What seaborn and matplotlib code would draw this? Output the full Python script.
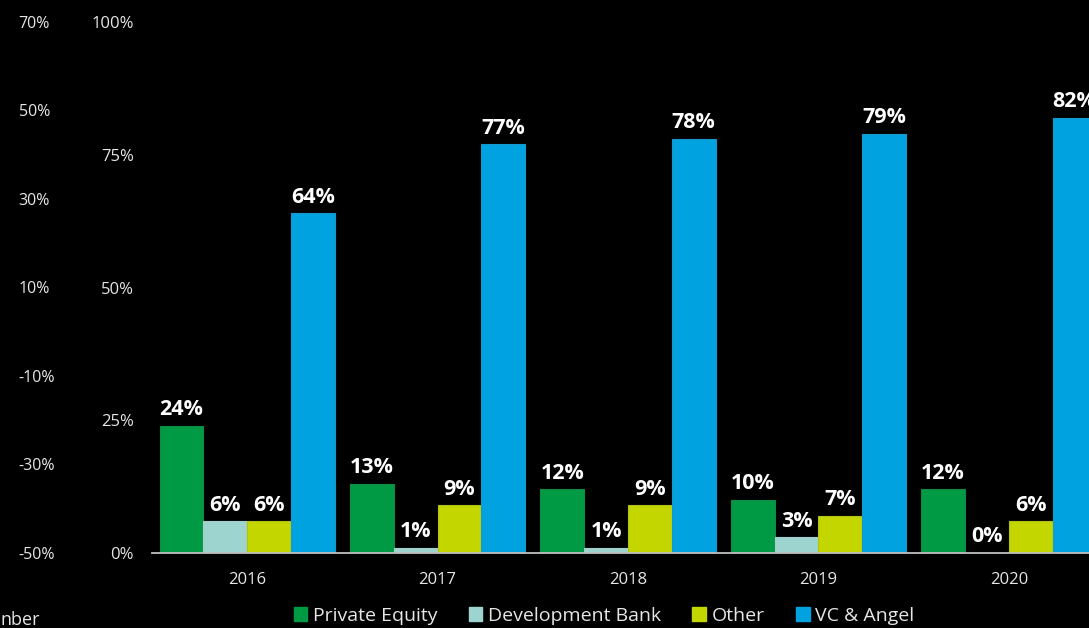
import matplotlib
matplotlib.use("Agg")
import matplotlib.pyplot as plt
from matplotlib.patches import Patch
import seaborn as sns
import pandas as pd
import numpy as np

# Data (share of deals by investor type)
years = ["2016", "2017", "2018", "2019", "2020"]
series = ["Private Equity", "Development Bank", "Other", "VC & Angel"]
private_equity = [24, 13, 12, 10, 12]
development_bank = [6, 1, 1, 3, 0]
other = [6, 9, 9, 7, 6]
vc_angel = [64, 77, 78, 79, 82]
colors = ["#009A44", "#9DD4CF", "#C4D600", "#00A3E0"]

left_ticks = [-50, -30, -10, 10, 30, 50, 70]
main_ticks = [0, 25, 50, 75, 100]

rows = []
for name, vals in zip(series, [private_equity, development_bank, other, vc_angel]):
    for y, v in zip(years, vals):
        rows.append({"year": y, "series": name, "share": v})
df = pd.DataFrame(rows)

sns.set_style("dark", {"axes.facecolor": "black", "figure.facecolor": "black"})
plt.rcParams["font.family"] = ["Open Sans", "DejaVu Sans"]
TXT = "#e6e6e6"

W, H = 1089, 628
fig = plt.figure(figsize=(W / 100, H / 100), dpi=100)
fig.patch.set_facecolor("black")
ax = fig.add_axes([152 / W, 75 / H, (1104 - 152) / W, 531 / H])
ax.set_facecolor("black")

sns.barplot(data=df, x="year", y="share", hue="series", hue_order=series,
            palette=colors, saturation=1, width=0.92, gap=0, ax=ax,
            legend=False, linewidth=0.8,
            edgecolor=None)
for cont, c in zip(ax.containers, colors):
    for bar in cont:
        bar.set_edgecolor(sns.desaturate(c, 0.8))
    ax.bar_label(cont, labels=[f"{v:.0f}%" for v in cont.datavalues],
                 padding=4, color="white", fontsize=15.5, fontweight="bold")

ax.set_ylim(0, 100)
ax.set_xlim(-0.5, 4.5)
ax.set_yticks(main_ticks)
ax.set_yticklabels([f"{t}%" for t in main_ticks])
ax.set_xlabel("")
ax.set_ylabel("")
ax.grid(False)
for s in ["top", "right", "left"]:
    ax.spines[s].set_visible(False)
ax.spines["bottom"].set_color("#bfbfbf")
ax.spines["bottom"].set_linewidth(1.3)
ax.tick_params(axis="y", length=0, pad=13, colors=TXT, labelsize=12)
ax.tick_params(axis="x", length=0, pad=14, colors=TXT, labelsize=12)

# second (left-most) percentage scale
ax2 = ax.twinx()
ax2.set_ylim(-50, 70)
ax2.set_yticks(left_ticks)
ax2.set_yticklabels([f"{t}%" for t in left_ticks])
ax2.yaxis.tick_left()
ax2.tick_params(axis="y", length=0, pad=96, colors=TXT, labelsize=11.5)
for lbl in ax2.get_yticklabels():
    lbl.set_horizontalalignment("left")
for s in ax2.spines.values():
    s.set_visible(False)
ax2.grid(False)

handles = [Patch(facecolor=c, edgecolor=c) for c in colors]
fig.legend(handles, series, loc="center", bbox_to_anchor=(604 / W, 12 / H),
           ncol=4, frameon=False, fontsize=14, labelcolor=TXT,
           handlelength=0.7, handleheight=0.7, handletextpad=0.3,
           columnspacing=1.6, borderaxespad=0)

fig.text(0, 8 / H, "nber", color=TXT, fontsize=13, ha="left", va="center")

fig.savefig("out.png", dpi=100, facecolor="black")
